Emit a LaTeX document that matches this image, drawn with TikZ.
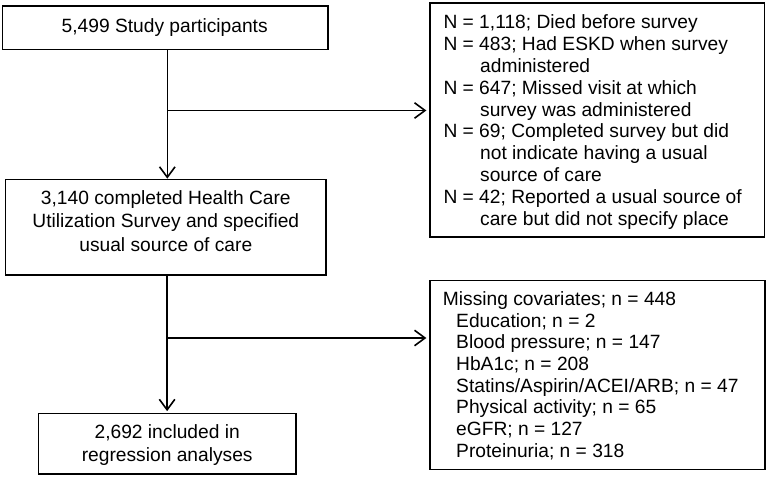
\documentclass[tikz,border=0pt]{standalone}
\usepackage{fontspec}
\setmainfont{Liberation Sans}
\usetikzlibrary{arrows.meta}
\begin{document}
\begin{tikzpicture}[x=1pt,y=-1pt,
  box/.style={draw,line width=1.3pt,inner sep=0pt,rectangle},
  txt/.style={inner sep=0pt,font=\fontsize{19.2}{23.7}\selectfont},
  arr/.style={line width=1.6pt,-{Straight Barb[length=10.5pt,width=15.5pt]}}]
\useasboundingbox (0,0) rectangle (768,478);
% left column
\node[box,minimum width=325.3pt,minimum height=43.3pt] (b1) at (165.35,27.65) {};
\node[txt,anchor=base] (b1t) at (164.7,32.3) {5,499 Study participants};
\node[box,minimum width=320.3pt,minimum height=95.7pt] (b2) at (165.85,227.15) {};
\node[txt,anchor=north,align=center] (b2t) at (165.8,190) {3,140 completed Health Care\\Utilization Survey and specified\\usual source of care};
\node[box,minimum width=257.7pt,minimum height=60.7pt] (b3) at (167.15,443.65) {};
\node[txt,anchor=north,align=center,font=\fontsize{19.2}{23.4}\selectfont] (b3t) at (167.2,424.3) {2,692 included in\\regression analyses};
% right column
\node[box,minimum width=334.5pt,minimum height=234pt] (r1) at (597.25,120) {};
\node[txt,anchor=north west,align=left,font=\fontsize{19.2}{21.9}\selectfont] (r1t) at (443.3,14.3) {N = 1,118; Died before survey\\N = 483; Had ESKD when survey\\\hspace*{36.7pt}administered\\N = 647; Missed visit at which\\\hspace*{36.7pt}survey was administered\\N = 69; Completed survey but did\\\hspace*{36.7pt}not indicate having a usual\\\hspace*{36.7pt}source of care\\N = 42; Reported a usual source of\\\hspace*{36.7pt}care but did not specify place};
\node[box,minimum width=335pt,minimum height=189pt] (r2) at (597.5,375.2) {};
\node[txt,anchor=north west,align=left,font=\fontsize{19.2}{21.7}\selectfont] (r2t) at (442.7,291.3) {Missing covariates; n = 448\\\hspace*{13.3pt}Education; n = 2\\\hspace*{13.3pt}Blood pressure; n = 147\\\hspace*{13.3pt}HbA1c; n = 208\\\hspace*{13.3pt}Statins/Aspirin/ACEI/ARB; n = 47\\\hspace*{13.3pt}Physical activity; n = 65\\\hspace*{13.3pt}eGFR; n = 127\\\hspace*{13.3pt}Proteinuria; n = 318};
% connectors
\coordinate (j1) at (167.3,110.5);
\coordinate (j2) at (167.1,338);
\draw[arr] (b1.south -| j1) -- (b2.north -| j1);
\draw[arr] (j1) -- ([xshift=-3pt]r1.west |- j1);
\draw[arr] (b2.south -| j2) -- ([yshift=1.5pt]b3.north -| j2);
\draw[arr] (j2) -- ([xshift=-3pt]r2.west |- j2);
\end{tikzpicture}
\end{document}
